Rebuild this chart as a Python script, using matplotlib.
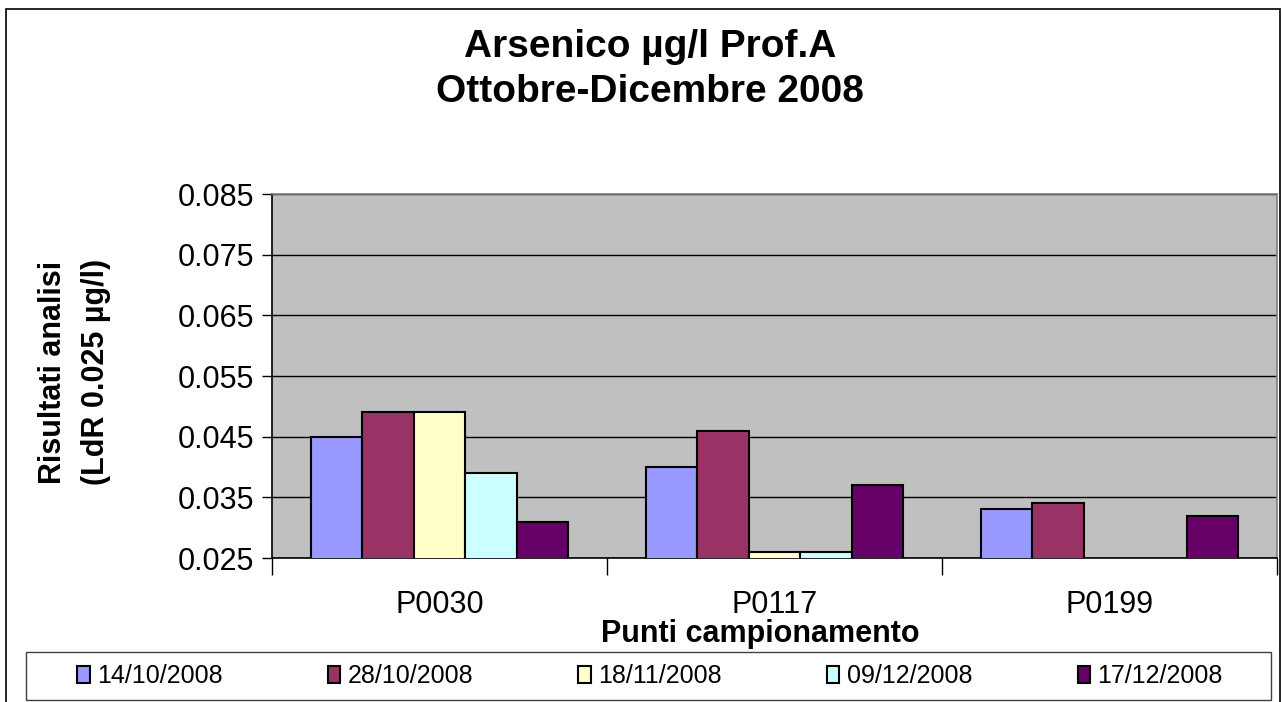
import numpy as np
import matplotlib
matplotlib.use("Agg")
import matplotlib.pyplot as plt
from matplotlib.patches import Rectangle

plt.rcParams['font.family'] = ['Liberation Sans', 'DejaVu Sans']

categories = ["P0030", "P0117", "P0199"]
series_labels = ["14/10/2008", "28/10/2008", "18/11/2008", "09/12/2008", "17/12/2008"]
v_14_10 = [0.045, 0.040, 0.033]
v_28_10 = [0.049, 0.046, 0.034]
v_18_11 = [0.049, 0.026, np.nan]
v_09_12 = [0.039, 0.026, np.nan]
v_17_12 = [0.031, 0.037, 0.032]
series_values = [v_14_10, v_28_10, v_18_11, v_09_12, v_17_12]
colors = ["#9999FF", "#993366", "#FFFFCC", "#CCFFFF", "#660066"]
yticks = [0.025, 0.035, 0.045, 0.055, 0.065, 0.075, 0.085]

W, H = 1282, 702
fig = plt.figure(figsize=(W / 100, H / 100), dpi=100)
fig.patch.set_facecolor("white")

# outer chart border
fig.add_artist(Rectangle((6 / W, -0.05), (1280 - 6) / W, (H - 9) / H + 0.05,
                         transform=fig.transFigure, fill=False,
                         edgecolor="black", linewidth=1.2))

ax = fig.add_axes([272 / W, 1 - 558 / H, (1277 - 272) / W, (558 - 194) / H])
ax.set_facecolor("#C0C0C0")

x = np.arange(len(categories))
bw = 1 / 6.5
for i, (vals, c, lab) in enumerate(zip(series_values, colors, series_labels)):
    ax.bar(x + (i - 2) * bw, vals, width=bw, color=c, edgecolor="black",
           linewidth=1.5, label=lab, zorder=3)

ax.set_ylim(0.025, 0.085)
ax.set_yticks(yticks)
ax.set_yticklabels([f"{t:.3f}" for t in yticks], fontsize=22)
ax.yaxis.grid(True, color="black", linewidth=1.0, zorder=1)
ax.set_axisbelow(True)

ax.set_xlim(-0.5, len(categories) - 0.5)
ax.set_xticks(np.arange(len(categories) + 1) - 0.5)
ax.set_xticklabels([])
ax.set_xticks(x, minor=True)
ax.set_xticklabels(categories, minor=True, fontsize=22)
ax.tick_params(axis="x", which="major", direction="out", length=12, width=1)
ax.tick_params(axis="x", which="minor", length=0, pad=23)
ax.tick_params(axis="y", direction="out", length=7, width=1, pad=6)

for s in ["top", "right"]:
    ax.spines[s].set_color("#808080")
    ax.spines[s].set_linewidth(1.2)
for s in ["left", "bottom"]:
    ax.spines[s].set_color("black")
    ax.spines[s].set_linewidth(1.2)

fig.text(650 / W, 1 - 47 / H, "Arsenico µg/l Prof.A", ha="center", va="center",
         fontsize=28, fontweight="bold")
fig.text(650 / W, 1 - 92 / H, "Ottobre-Dicembre 2008", ha="center", va="center",
         fontsize=28, fontweight="bold")

fig.text(53 / W, 1 - 372 / H, "Risultati analisi", rotation=90, ha="center",
         va="center", fontsize=22, fontweight="bold")
fig.text(96 / W, 1 - 372 / H, "(LdR 0.025 µg/l)", rotation=90, ha="center",
         va="center", fontsize=22, fontweight="bold")

fig.text(760 / W, 1 - 634 / H, "Punti campionamento", ha="center", va="center",
         fontsize=22, fontweight="bold")

# legend frame
fig.add_artist(Rectangle((26 / W, 1 - 700 / H), (1271 - 26) / W, (700 - 652) / H,
                         transform=fig.transFigure, facecolor="white",
                         edgecolor="#404040", linewidth=1.0))
leg = fig.legend(loc="center", bbox_to_anchor=(650 / W, 1 - 676 / H), ncol=5,
                 fontsize=18, frameon=False,
                 handlelength=0.5, handleheight=0.7, handletextpad=0.3,
                 columnspacing=4.2, borderpad=0.2)

fig.savefig("out.png", dpi=100)
